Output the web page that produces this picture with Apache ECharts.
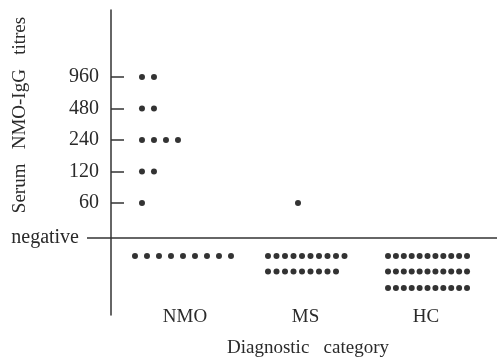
<!DOCTYPE html>
<html>
<head>
<meta charset="utf-8">
<script src="https://cdn.jsdelivr.net/npm/echarts@6/dist/echarts.min.js"></script>
<style>
  html, body { margin: 0; padding: 0; background: #fff; }
  #chart { width: 497px; height: 363px; }
</style>
</head>
<body>
<div id="chart"></div>
<script>
const categories = ['NMO', 'MS', 'HC'];
const titreLabels = ['60', '120', '240', '480', '960'];
// dots per titre level, 60 -> 960
const nmoPositive = [1, 2, 4, 2, 2];
const msPositive = [1, 0, 0, 0, 0];
const hcPositive = [0, 0, 0, 0, 0];
// negative samples, one number per printed row
const nmoNegative = [9];
const msNegative = [10, 9];
const hcNegative = [11, 11, 11];

const FONT = '"Liberation Serif", "DejaVu Serif", serif';
const INK = '#2a2a2a';
const UNIT = 120.5; // px per category step on x
// row offsets (px) from category centre
const layout = [
  { posStart: -43, negStart: -50, pitch: 12 },
  { posStart: -7.5, negStart: -37.5, pitch: 8.5 },
  { posStart: 0, negStart: -38, pitch: 7.9 }
];
const negLineY = -0.11;
const negRowY = [-0.683, -1.175, -1.698];

function buildDots(ci, positive, negative) {
  const l = layout[ci];
  const pts = [];
  positive.forEach((n, li) => {
    for (let k = 0; k < n; k++) {
      pts.push([ci + 1 + (l.posStart + k * l.pitch) / UNIT, li + 1]);
    }
  });
  negative.forEach((n, r) => {
    for (let k = 0; k < n; k++) {
      pts.push([ci + 1 + (l.negStart + k * l.pitch) / UNIT, negRowY[r]]);
    }
  });
  return pts;
}

const groups = [
  buildDots(0, nmoPositive, nmoNegative),
  buildDots(1, msPositive, msNegative),
  buildDots(2, hcPositive, hcNegative)
];

const chart = echarts.init(document.getElementById('chart'));
const option = {
  animation: false,
  grid: { left: 87, right: 0, top: 10, bottom: 48 },
  xAxis: {
    type: 'value',
    min: 0.187,
    max: 3.589,
    axisLine: { show: false, onZero: false },
    axisTick: { show: false },
    splitLine: { show: false },
    axisLabel: {
      customValues: [1, 2, 3],
      formatter: v => categories[Math.round(v) - 1],
      fontFamily: FONT,
      fontSize: 19,
      color: INK,
      margin: 2,
      verticalAlign: 'middle'
    }
  },
  yAxis: {
    type: 'value',
    min: -2.556,
    max: 7.127,
    offset: -24,
    axisLine: { show: true, onZero: false, lineStyle: { color: '#333', width: 1.5 } },
    axisTick: {
      show: true,
      inside: true,
      length: 13,
      customValues: [1, 2, 3, 4, 5],
      lineStyle: { color: '#333', width: 1.5 }
    },
    axisLabel: {
      customValues: [1, 2, 3, 4, 5],
      formatter: v => titreLabels[Math.round(v) - 1],
      margin: 12,
      fontFamily: FONT,
      fontSize: 20,
      color: INK
    },
    splitLine: { show: false }
  },
  graphic: [
    {
      type: 'text',
      x: 20,
      y: 115,
      rotation: Math.PI / 2,
      style: {
        text: 'Serum   NMO-IgG   titres',
        font: '19px ' + FONT,
        fill: INK,
        align: 'center',
        verticalAlign: 'middle',
        textAlign: 'center',
        textVerticalAlign: 'middle'
      }
    },
    {
      type: 'text',
      x: 308,
      y: 348,
      style: {
        text: 'Diagnostic   category',
        font: '19px ' + FONT,
        fill: INK,
        align: 'center',
        verticalAlign: 'middle',
        textAlign: 'center',
        textVerticalAlign: 'middle'
      }
    }
  ],
  series: groups.map((data, i) => ({
    name: categories[i],
    type: 'scatter',
    symbolSize: 6,
    itemStyle: { color: '#333', opacity: 1 },
    data: data,
    markLine: i === 0 ? {
      silent: true,
      symbol: ['none', 'none'],
      lineStyle: { color: '#333', width: 1.5, type: 'solid' },
      label: {
        show: true,
        position: 'start',
        formatter: 'negative',
        distance: 8,
        fontFamily: FONT,
        fontSize: 20,
        color: INK
      },
      data: [{ yAxis: negLineY }]
    } : undefined
  }))
};
chart.setOption(option);
</script>
</body>
</html>
